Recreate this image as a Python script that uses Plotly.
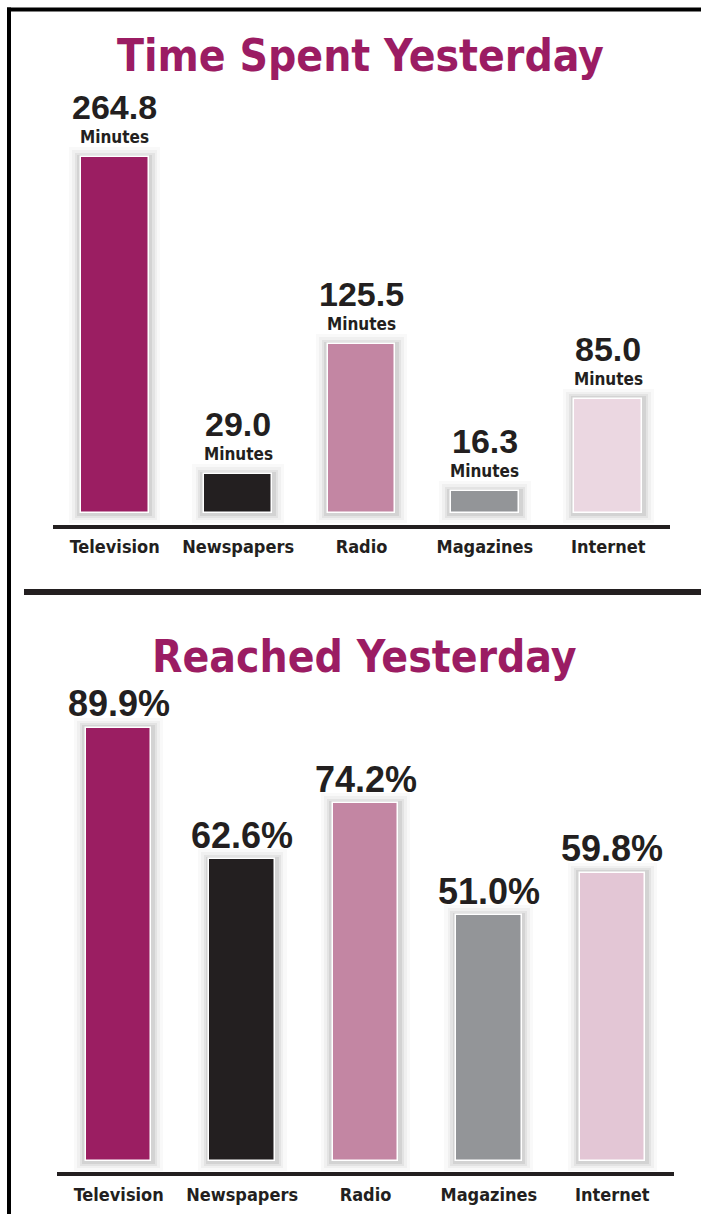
import plotly.graph_objects as go

# ---------------- data ----------------
categories = ["Television", "Newspapers", "Radio", "Magazines", "Internet"]
time_minutes = [264.8, 29.0, 125.5, 16.3, 85.0]
time_labels = ["264.8", "29.0", "125.5", "16.3", "85.0"]
reach_pct = [89.9, 62.6, 74.2, 51.0, 59.8]
reach_labels = ["89.9%", "62.6%", "74.2%", "51.0%", "59.8%"]
title_top = "Time Spent Yesterday"
title_bottom = "Reached Yesterday"

# ---------------- style ----------------
W, H = 701, 1214
colors_top = ["#9b1e62", "#231f20", "#c386a3", "#939598", "#ebd7e1"]
colors_bot = ["#9b1e62", "#231f20", "#c386a3", "#939598", "#e3c6d5"]
TITLE_COLOR = "#9b1c63"
TEXT_COLOR = "#231f20"
NARROW = "DejaVu Sans Condensed, DejaVu Sans, sans-serif"
VALUE_FONT = "Liberation Sans, Arial, sans-serif"

def py(px):
    return 1 - px / H

def pxx(px):
    return px / W

# panel geometry: axis-line pixel, zero (bar base) pixel, pixels per unit, top pixel
T_LINE, T_ZERO, T_SCALE, T_TOPPX = 525, 513, 1.344, 60
B_LINE, B_ZERO, B_SCALE, B_TOPPX = 1172, 1161, 4.82, 700

fig = go.Figure()

def add_panel(vals, cols, xa, ya, width, scale):
    # soft shadow layers derived from the same values
    for pad_px, extra, alpha in [(10, 0.19, 0.025), (7, 0.14, 0.035), (4.5, 0.095, 0.05), (2.5, 0.06, 0.07)]:
        p = pad_px / scale
        fig.add_trace(go.Bar(
            x=categories, y=[v + 2 * p for v in vals], base=-p,
            width=width + extra, marker=dict(color=f"rgba(0,0,0,{alpha})", line=dict(width=0)),
            xaxis=xa, yaxis=ya, hoverinfo="skip", showlegend=False,
        ))
    fig.add_trace(go.Bar(
        x=categories, y=vals, width=width,
        marker=dict(color=cols, line=dict(color="white", width=1.5)),
        xaxis=xa, yaxis=ya, showlegend=False,
    ))

add_panel(time_minutes, colors_top, "x", "y", 0.55, T_SCALE)
add_panel(reach_pct, colors_bot, "x2", "y2", 0.53, B_SCALE)

annotations = []
for c, v, lab in zip(categories, time_minutes, time_labels):
    annotations.append(dict(x=c, y=v, xref="x", yref="y", text=f"<b>{lab}</b>",
                            showarrow=False, yanchor="middle", yshift=50,
                            font=dict(family=VALUE_FONT, size=34, color=TEXT_COLOR)))
    annotations.append(dict(x=c, y=v, xref="x", yref="y", text="<b>Minutes</b>",
                            showarrow=False, yanchor="middle", yshift=20,
                            font=dict(family=NARROW, size=17, color=TEXT_COLOR)))
for c, v, lab in zip(categories, reach_pct, reach_labels):
    annotations.append(dict(x=c, y=v, xref="x2", yref="y2", text=f"<b>{lab}</b>",
                            showarrow=False, yanchor="middle", yshift=24,
                            font=dict(family=VALUE_FONT, size=36, color=TEXT_COLOR)))

annotations.append(dict(x=pxx(360), y=py(56), xref="paper", yref="paper",
                        text=f"<b>{title_top}</b>", showarrow=False,
                        xanchor="center", yanchor="middle",
                        font=dict(family=NARROW, size=44, color=TITLE_COLOR)))
annotations.append(dict(x=pxx(364), y=py(656), xref="paper", yref="paper",
                        text=f"<b>{title_bottom}</b>", showarrow=False,
                        xanchor="center", yanchor="middle",
                        font=dict(family=NARROW, size=44, color=TITLE_COLOR)))

shapes = [
    # outer frame: top and left
    dict(type="line", xref="paper", yref="paper", x0=pxx(7), x1=1, y0=py(9.5), y1=py(9.5),
         line=dict(color="black", width=4)),
    dict(type="line", xref="paper", yref="paper", x0=pxx(9), x1=pxx(9), y0=py(7.5), y1=0,
         line=dict(color="black", width=4)),
    # divider
    dict(type="line", xref="paper", yref="paper", x0=pxx(24), x1=1, y0=py(592), y1=py(592),
         line=dict(color=TEXT_COLOR, width=6)),
]

axis_common = dict(showgrid=False, zeroline=False, showticklabels=True, ticks="",
                   tickfont=dict(family=NARROW, size=18, color=TEXT_COLOR),
                   showline=True, linecolor=TEXT_COLOR, linewidth=3.5,
                   categoryorder="array", categoryarray=categories, fixedrange=True)
yaxis_common = dict(showgrid=False, zeroline=False, showticklabels=False, ticks="",
                    showline=False, fixedrange=True)

fig.update_layout(
    width=W, height=H, margin=dict(l=0, r=0, t=0, b=0),
    paper_bgcolor="white", plot_bgcolor="white",
    barmode="overlay", bargap=0,
    showlegend=False,
    xaxis=dict(domain=[pxx(53), pxx(670)], anchor="y", range=[-0.5, 4.5],
               tickvals=categories, ticktext=[f"<b>{c}</b>" for c in categories],
               ticklabelstandoff=3, **axis_common),
    yaxis=dict(domain=[py(T_LINE), py(T_TOPPX)], anchor="x",
               range=[-(T_LINE - T_ZERO) / T_SCALE, (T_ZERO - T_TOPPX) / T_SCALE],
               **yaxis_common),
    xaxis2=dict(domain=[pxx(57), pxx(674)], anchor="y2", range=[-0.5, 4.5],
                tickvals=categories, ticktext=[f"<b>{c}</b>" for c in categories],
                ticklabelstandoff=4, **axis_common),
    yaxis2=dict(domain=[py(B_LINE), py(B_TOPPX)], anchor="x2",
                range=[-(B_LINE - B_ZERO) / B_SCALE, (B_ZERO - B_TOPPX) / B_SCALE],
                **yaxis_common),
    annotations=annotations,
    shapes=shapes,
)

fig.write_html("out.html", config={"displayModeBar": False},
               post_script="document.body.style.margin='0';document.body.style.overflow='hidden';")
